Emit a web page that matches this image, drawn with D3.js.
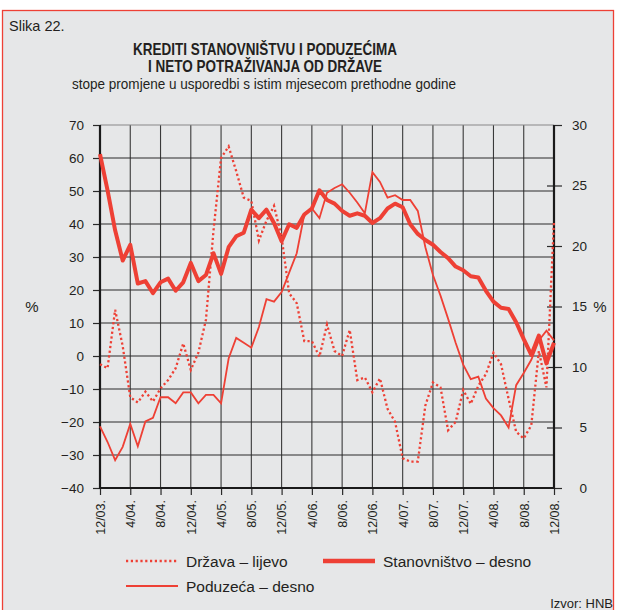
<!DOCTYPE html>
<html>
<head>
<meta charset="utf-8">
<script src="https://cdn.jsdelivr.net/npm/d3@7"></script>
<style>
  body { margin: 0; background: #fff; }
  text { font-family: "Liberation Sans", Arial, sans-serif; fill: #231f20; }
</style>
</head>
<body>
<script>
// tick labels on the x axis, one every 4 months (12/03. .. 12/08.)
var tickLabels = ["12/03.", "4/04.", "8/04.", "12/04.", "4/05.", "8/05.", "12/05.", "4/06.",
                  "8/06.", "12/06.", "4/07.", "8/07.", "12/07.", "4/08.", "8/08.", "12/08."];

// Država – lijevo (left axis), monthly 12/03 .. 12/08
var drzava = [-2.5, -3.7, 14, 3, -12.5, -14.1, -10.8, -13.8, -9.8, -7.3, -3.7, 3.8, -4.2, 1, 11,
              38, 60, 63.5, 56, 48, 47, 35, 41, 45.5, 36, 19, 16, 4.5, 4.5, -0.2,
              9.5, 1.5, 0, 7.9, -7.3, -6.5, -11, -6.8, -16, -20, -31, -32, -32, -15, -8,
              -9.5, -22.5, -20, -10.3, -14.5, -9, -5.5, 1, -2.5, -13, -23, -25, -21, 1.5, -9.5, 41];

// Stanovništvo – desno (right axis)
var stanovnistvo = [27.6, 24.6, 21.3, 18.8, 20.1, 16.9, 17.1, 16.1, 17.0, 17.3, 16.3, 17.0, 18.6, 17.1, 17.6,
                    19.4, 17.7, 19.9, 20.8, 21.1, 23.0, 22.3, 23.0, 21.9, 20.4, 21.8, 21.5, 22.6, 23.1, 24.6,
                    23.8, 23.5, 22.9, 22.5, 22.7, 22.5, 21.9, 22.3, 23.1, 23.5, 23.2, 21.8, 21.0, 20.5, 20.1,
                    19.5, 19.0, 18.3, 18.0, 17.5, 17.4, 16.3, 15.4, 14.9, 14.8, 13.7, 12.3, 11.0, 12.6, 10.3, 12.0];

// Poduzeća – desno (right axis)
var poduzeca = [5.1, 3.8, 2.3, 3.4, 5.3, 3.45, 5.5, 5.8, 7.5, 7.5, 7.0, 7.9, 7.9, 7.0, 7.7,
                7.7, 7.0, 10.7, 12.4, 12.0, 11.6, 13.3, 15.6, 15.4, 16.2, 17.8, 19.4, 22.6, 23.1, 22.3,
                24.4, 24.8, 25.1, 24.4, 23.6, 22.7, 26.1, 25.3, 24.0, 24.2, 23.8, 23.8, 22.9, 19.9, 17.6,
                15.9, 14.0, 12.0, 10.2, 9.0, 9.2, 7.4, 6.6, 6.0, 5.0, 8.5, 9.5, 10.6, 12.2, 13.0, 12.2];

var leftTicks = [-40, -30, -20, -10, 0, 10, 20, 30, 40, 50, 60, 70];
var rightTicks = [0, 5, 10, 15, 20, 25, 30];

var red = "#ee4035";

var svg = d3.select("body")
    .append("svg")
    .attr("width", 617)
    .attr("height", 610);

// frame
svg.append("rect")
    .attr("x", 2.5).attr("y", 10.5)
    .attr("width", 611).attr("height", 640)
    .attr("fill", "#e6e7e8")
    .attr("stroke", red)
    .attr("stroke-width", 1.3);

var x = d3.scaleLinear().domain([0, drzava.length - 1]).range([100, 554]);
var yL = d3.scaleLinear().domain([-40, 70]).range([488, 125]);
var yR = d3.scaleLinear().domain([0, 30]).range([488, 125]);

// titles
svg.append("text").attr("x", 9).attr("y", 31).attr("font-size", 14.5).text("Slika 22.");
svg.append("text").attr("x", 265).attr("y", 55).attr("text-anchor", "middle")
    .attr("font-size", 16.5).attr("font-weight", "bold")
    .attr("textLength", 264).attr("lengthAdjust", "spacingAndGlyphs")
    .text("KREDITI STANOVNIŠTVU I PODUZEĆIMA");
svg.append("text").attr("x", 265).attr("y", 72).attr("text-anchor", "middle")
    .attr("font-size", 16.5).attr("font-weight", "bold")
    .attr("textLength", 234).attr("lengthAdjust", "spacingAndGlyphs")
    .text("I NETO POTRAŽIVANJA OD DRŽAVE");
svg.append("text").attr("x", 264).attr("y", 89).attr("text-anchor", "middle")
    .attr("font-size", 15)
    .attr("textLength", 384).attr("lengthAdjust", "spacingAndGlyphs")
    .text("stope promjene u usporedbi s istim mjesecom prethodne godine");

// grid
var tickIdx = tickLabels.map(function(d, i){ return i * 4; });
svg.append("g").selectAll("line")
    .data(tickIdx.slice(1, -1))
    .enter().append("line")
    .attr("x1", function(d){ return x(d); }).attr("x2", function(d){ return x(d); })
    .attr("y1", 125).attr("y2", 488)
    .attr("stroke", "#3a3a3a").attr("stroke-width", 1.1);
svg.append("g").selectAll("line")
    .data(leftTicks.slice(1))
    .enter().append("line")
    .attr("x1", 100).attr("x2", 554)
    .attr("y1", function(d){ return yL(d); }).attr("y2", function(d){ return yL(d); })
    .attr("stroke", function(d){ return d === 70 ? "#888" : "#2a2a2a"; })
    .attr("stroke-width", 1.1);

// axes
var axL = svg.append("g").attr("transform", "translate(100,0)")
    .call(d3.axisLeft(yL).tickValues(leftTicks).tickSize(7).tickPadding(9)
        .tickFormat(function(d){ return d < 0 ? "\u2212" + Math.abs(d) : d; }));
var axR = svg.append("g").attr("transform", "translate(554,0)")
    .call(d3.axisRight(yR).tickValues(rightTicks).tickSize(8).tickPadding(25));
axR.selectAll(".tick line").attr("x1", function(d){ return d === 30 || d === 0 ? 0 : -7; });
axR.selectAll(".tick text").attr("text-anchor", "end").attr("dx", 0);
var axB = svg.append("g").attr("transform", "translate(0,488)")
    .call(d3.axisBottom(x).tickValues(tickIdx).tickSize(7)
        .tickFormat(function(d, i){ return tickLabels[i]; }));
axB.selectAll(".tick text")
    .attr("transform", "rotate(-90)")
    .attr("text-anchor", "end")
    .attr("x", -12).attr("y", 0).attr("dy", "0.35em");

[axL, axR, axB].forEach(function(a){
    a.select(".domain").remove();
    a.selectAll(".tick line").attr("stroke", "#2a2a2a").attr("stroke-width", 1.2);
    a.selectAll(".tick text").attr("font-size", 13.5).attr("fill", "#231f20")
        .attr("font-family", "'Liberation Sans', Arial, sans-serif");
});
axB.selectAll(".tick text").attr("font-size", 12.5);

svg.append("line").attr("x1", 100).attr("x2", 100).attr("y1", 125).attr("y2", 489)
    .attr("stroke", "#1a1a1a").attr("stroke-width", 2.2);
svg.append("line").attr("x1", 554).attr("x2", 554).attr("y1", 125).attr("y2", 489)
    .attr("stroke", "#1a1a1a").attr("stroke-width", 2.2);
svg.append("line").attr("x1", 99).attr("x2", 555).attr("y1", 488).attr("y2", 488)
    .attr("stroke", "#1a1a1a").attr("stroke-width", 2.2);

svg.append("text").attr("x", 32).attr("y", 312).attr("text-anchor", "middle").attr("font-size", 15).text("%");
svg.append("text").attr("x", 600).attr("y", 312).attr("text-anchor", "middle").attr("font-size", 15).text("%");

// series
var lineL = d3.line().x(function(d, i){ return x(i); }).y(function(d){ return yL(d); });
var lineR = d3.line().x(function(d, i){ return x(i); }).y(function(d){ return yR(d); });

svg.append("path").datum(poduzeca).attr("d", lineR)
    .attr("fill", "none").attr("stroke", red).attr("stroke-width", 1.8);
svg.append("path").datum(drzava).attr("d", lineL)
    .attr("fill", "none").attr("stroke", red).attr("stroke-width", 2.3)
    .attr("stroke-dasharray", "2.2,2.6");
svg.append("path").datum(stanovnistvo).attr("d", lineR)
    .attr("fill", "none").attr("stroke", red).attr("stroke-width", 4)
    .attr("stroke-linejoin", "round");

// legend
var legend = [
    {name: "Država – lijevo", x: 126, y: 561, w: 2.3, dash: "2.2,2.6"},
    {name: "Stanovništvo – desno", x: 323, y: 561, w: 4.5, dash: null},
    {name: "Poduzeća – desno", x: 126, y: 586, w: 1.8, dash: null}
];
var lg = svg.append("g").selectAll("g").data(legend).enter().append("g");
lg.append("line")
    .attr("x1", function(d){ return d.x; }).attr("x2", function(d){ return d.x + 52; })
    .attr("y1", function(d){ return d.y; }).attr("y2", function(d){ return d.y; })
    .attr("stroke", red).attr("stroke-width", function(d){ return d.w; })
    .attr("stroke-dasharray", function(d){ return d.dash; });
lg.append("text")
    .attr("x", function(d){ return d.x + 60; }).attr("y", function(d){ return d.y + 6; })
    .attr("font-size", 15.5).text(function(d){ return d.name; });

svg.append("text").attr("x", 613).attr("y", 608).attr("text-anchor", "end")
    .attr("font-size", 13).text("Izvor: HNB");
</script>
</body>
</html>
